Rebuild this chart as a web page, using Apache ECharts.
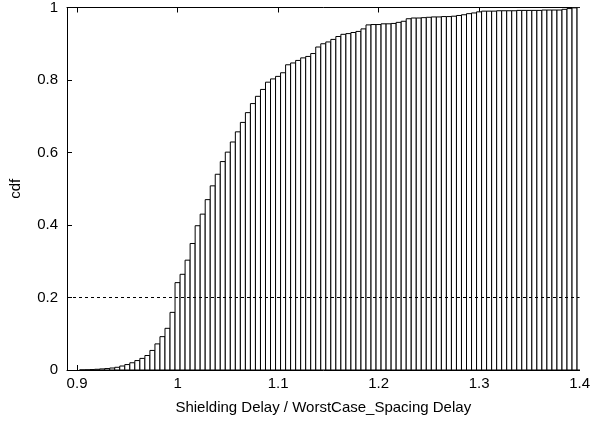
<!DOCTYPE html>
<html>
<head>
<meta charset="utf-8">
<script src="https://cdn.jsdelivr.net/npm/echarts@6/dist/echarts.min.js"></script>
<style>
  html, body { margin: 0; padding: 0; background: #fff; }
  #chart { width: 593px; height: 423px; }
</style>
</head>
<body>
<div id="chart"></div>
<script>
// Histogram bins: first bin centre and bin width (ratio units)
const binStart = 0.905;
const binWidth = 0.005;

// Cumulative fraction for each bin, from 0.905 up to 1.400
const cdfValues = [
  0.0003, 0.0006, 0.0012, 0.002, 0.003, 0.004, 0.0055, 0.0075, 0.011, 0.015,
  0.020, 0.026, 0.032, 0.040, 0.054, 0.072, 0.092, 0.115, 0.159, 0.241,
  0.264, 0.303, 0.349, 0.398, 0.430, 0.470, 0.508, 0.540, 0.575, 0.601,
  0.629, 0.657, 0.683, 0.710, 0.735, 0.755, 0.774, 0.794, 0.803, 0.810,
  0.820, 0.842, 0.847, 0.854, 0.861, 0.865, 0.873, 0.891, 0.900, 0.905,
  0.912, 0.920, 0.926, 0.928, 0.931, 0.934, 0.941, 0.952, 0.953, 0.953,
  0.955, 0.955, 0.956, 0.959, 0.962, 0.969, 0.971, 0.971, 0.972, 0.973,
  0.974, 0.974, 0.975, 0.975, 0.976, 0.978, 0.980, 0.983, 0.985, 0.988,
  0.990, 0.990, 0.990, 0.991, 0.991, 0.991, 0.991, 0.992, 0.992, 0.992,
  0.992, 0.992, 0.993, 0.993, 0.993, 0.993, 0.995, 0.997, 0.999, 1.000
];

// Axis ranges and tick labels
const xRange = [0.89, 1.4];
const xTicks = [0.9, 1.0, 1.1, 1.2, 1.3, 1.4];
const yRange = [0, 1];
const yStep = 0.2;

// Reference level drawn as a dashed line
const refLevel = 0.2;

const xTitle = 'Shielding Delay / WorstCase_Spacing Delay';
const yTitle = 'cdf';

const barData = cdfValues.map((v, i) => [+(binStart + i * binWidth).toFixed(3), v]);

const font = 'Liberation Sans, Arial, Helvetica, sans-serif';
const axisBase = {
  axisLine: { show: true, onZero: false, lineStyle: { color: '#000', width: 1 } },
  axisTick: { show: true, inside: true, length: 5, lineStyle: { color: '#000', width: 1 } },
  splitLine: { show: false }
};

const chart = echarts.init(document.getElementById('chart'), null, { renderer: 'canvas' });
chart.setOption({
  animation: false,
  backgroundColor: '#fff',
  grid: { left: 66, right: 10, top: 7, bottom: 53, containLabel: false },
  xAxis: [
    Object.assign({}, axisBase, {
      type: 'value', position: 'bottom', min: xRange[0], max: xRange[1],
      axisTick: Object.assign({}, axisBase.axisTick, { customValues: xTicks }),
      axisLabel: { customValues: xTicks, color: '#000', fontFamily: font, fontSize: 15, margin: 6 },
      name: xTitle, nameLocation: 'middle', nameGap: 30,
      nameTextStyle: { color: '#000', fontFamily: font, fontSize: 15 }
    }),
    Object.assign({}, axisBase, {
      type: 'value', position: 'top', min: xRange[0], max: xRange[1],
      axisTick: Object.assign({}, axisBase.axisTick, { customValues: xTicks }),
      axisLabel: { show: false }
    })
  ],
  yAxis: [
    Object.assign({}, axisBase, {
      type: 'value', position: 'left', min: yRange[0], max: yRange[1], interval: yStep,
      axisLabel: { color: '#000', fontFamily: font, fontSize: 15, margin: 9 },
      name: yTitle, nameLocation: 'middle', nameGap: 44,
      nameTextStyle: { color: '#000', fontFamily: font, fontSize: 15 }
    }),
    Object.assign({}, axisBase, {
      type: 'value', position: 'right', min: yRange[0], max: yRange[1], interval: yStep,
      axisLabel: { show: false }
    })
  ],
  series: [
    {
      type: 'custom',
      xAxisIndex: 0, yAxisIndex: 0,
      clip: true,
      data: barData,
      renderItem: function (params, api) {
        const x = api.value(0), v = api.value(1);
        const topLeft = api.coord([x - binWidth / 2, v]);
        const bottomRight = api.coord([x + binWidth / 2, 0]);
        return {
          type: 'rect',
          shape: {
            x: topLeft[0], y: topLeft[1],
            width: bottomRight[0] - topLeft[0],
            height: bottomRight[1] - topLeft[1]
          },
          style: { fill: '#fff', stroke: '#000', lineWidth: 1 }
        };
      }
    },
    {
      type: 'line',
      xAxisIndex: 0, yAxisIndex: 0,
      data: [[xRange[0], refLevel], [xRange[1], refLevel]],
      symbol: 'none',
      lineStyle: { color: '#000', width: 1, type: [3, 3] },
      z: 5
    }
  ]
});
</script>
</body>
</html>
